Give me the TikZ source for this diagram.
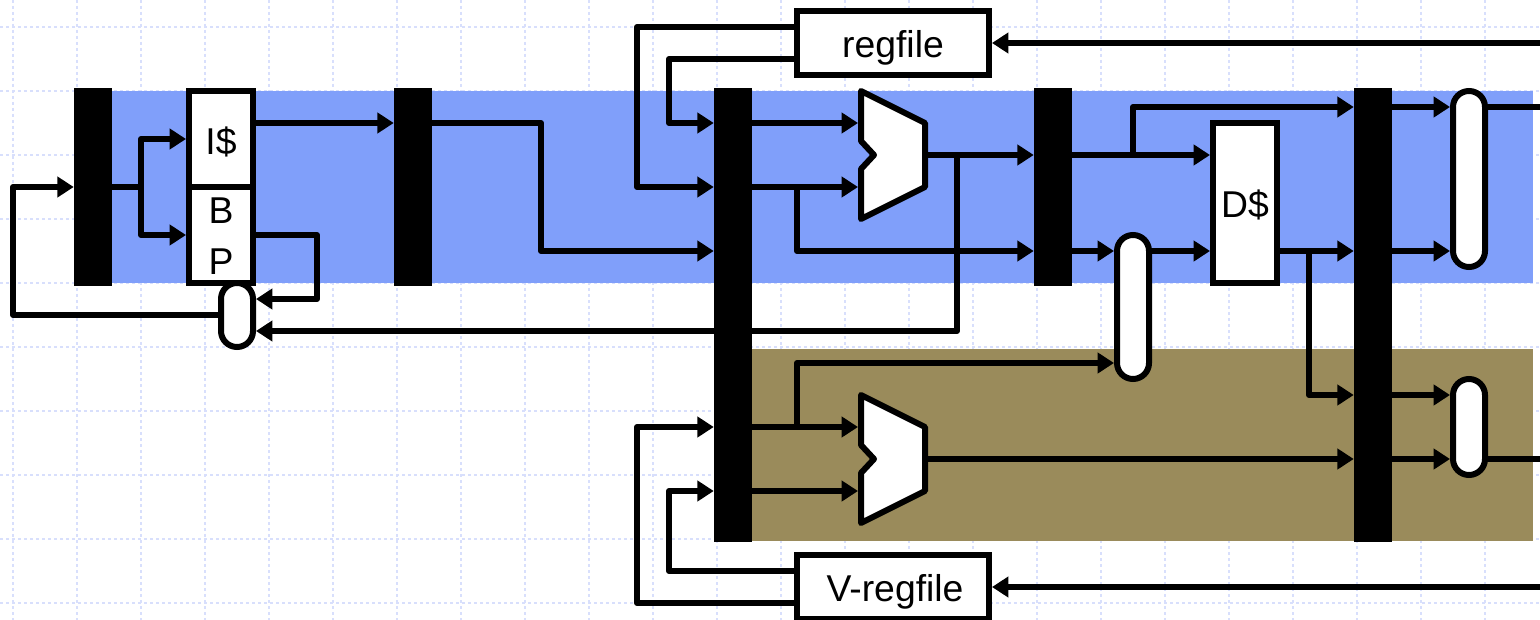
\documentclass[tikz,border=0pt]{standalone}
\usepackage{fontspec}
\setmainfont{Liberation Sans}
\usetikzlibrary{arrows.meta}
\definecolor{gridc}{HTML}{D8DFFC}
\definecolor{blueband}{HTML}{809FFA}
\definecolor{brownband}{HTML}{9A8B5B}
\newcommand\placedtext[2]{\raisebox{#1}[0pt][0pt]{#2}}
\tikzset{
  gridline/.style={draw=gridc,line width=1.25pt,dash pattern=on 2.4pt off 2.1pt},
  wire/.style={line width=4.5pt,line join=round,line cap=butt},
  arrowwire/.style={wire,-{Triangle[length=12.25pt,width=15pt,inset=0pt]}},
  bar/.style={fill=black,inner sep=0pt,minimum width=28.5pt},
  band/.style={inner sep=0pt,outer sep=0pt},
  box/.style={draw=black,fill=white,line width=4.5pt,inner sep=0pt,align=center,line join=miter},
  oval/.style={draw=black,fill=white,line width=4.5pt,inner sep=0pt,rounded corners=12pt},
  alubody/.style={draw=black,fill=white,line width=4.5pt,line join=round},
  label/.style={font=\fontsize{28}{39}\selectfont}
}
\begin{document}
\begin{tikzpicture}[x=0.75pt,y=-0.75pt]
\useasboundingbox (0,0) rectangle (1540,620);
% grid
\foreach \n in {0,...,23} \draw[gridline] ({12.7+64*\n},0) -- ({12.7+64*\n},620);
\foreach \n in {0,...,9} \draw[gridline] (0,{26.7+64*\n}) -- (1540,{26.7+64*\n});
% bands
\node[band,fill=blueband,anchor=north west,minimum width=1065.75pt,minimum height=144pt] (blue) at (112,91) {};
\node[band,fill=brownband,anchor=north west,minimum width=585.75pt,minimum height=144pt] (brown) at (752,349) {};
% pipeline bars
\node[bar,minimum height=148.5pt] (barA) at (93,187) {};
\node[bar,minimum height=148.5pt] (barB) at (413,187) {};
\node[bar,minimum height=340.5pt] (barC) at (733,315) {};
\node[bar,minimum height=148.5pt] (barD) at (1053,187) {};
\node[bar,minimum height=340.5pt] (barE) at (1373,315) {};
% ovals
\node[oval,minimum width=24pt,minimum height=48pt] (ovalA) at (237,315) {};
\node[oval,minimum width=24pt,minimum height=108pt] (ovalB) at (1133,307) {};
\node[oval,minimum width=24pt,minimum height=132pt] (ovalC) at (1469,179) {};
\node[oval,minimum width=24pt,minimum height=72pt] (ovalD) at (1469,427) {};
% boxes
\node[box,minimum width=48pt,minimum height=72pt,label] (icache) at (221,139) {\placedtext{-12pt}{I\$}};
\node[box,minimum width=48pt,minimum height=72pt,label] (bp) at (221,235) {\placedtext{-29.5pt}{\shortstack{B\\[15.75pt]P}}};
\node[box,minimum width=144pt,minimum height=48pt,label] (regfile) at (893,43) {\placedtext{-10.7pt}{regfile}};
\node[box,minimum width=144pt,minimum height=48pt,label] (vregfile) at (893,587) {\hspace{3pt}\placedtext{-10.5pt}{V-regfile}};
\node[box,minimum width=48pt,minimum height=120pt,label] (dcache) at (1245,203) {\placedtext{-11.25pt}{D\$}};
% ALUs
\draw[alubody] (861,91) -- (925,123) -- (925,187) -- (861,219) -- (861,169) -- (874,155) -- (861,141) -- cycle;
\draw[alubody] (861,395) -- (925,427) -- (925,491) -- (861,523) -- (861,473) -- (874,459) -- (861,445) -- cycle;
\coordinate (aluAa) at (858,123);
\coordinate (aluAb) at (858,187);
\coordinate (aluAo) at (928,155);
\coordinate (aluBa) at (858,427);
\coordinate (aluBb) at (858,491);
\coordinate (aluBo) at (928,459);
% free ends
\coordinate (edgeA) at (1540,43);
\coordinate (edgeB) at (1540,107);
\coordinate (edgeC) at (1540,459);
\coordinate (edgeD) at (1540,587);
% front end
\draw[wire] (barA.east |- 0,187) -- (141,187);
\draw[arrowwire] (141,187) -- (141,139) -- (icache.west |- 0,139);
\draw[arrowwire] (141,187) -- (141,235) -- (bp.west);
\draw[arrowwire] (ovalA.west) -- (13,315) -- (13,187) -- (barA.west);
\draw[arrowwire] (bp.east) -- (317,235) -- (317,299) -- (ovalA.east |- 0,299);
\draw[arrowwire] (aluAo) -- (957,155) -- (957,331) -- (ovalA.east |- 0,331);
\draw[arrowwire] (icache.east |- 0,123) -- (barB.west |- 0,123);
\draw[arrowwire] (barB.east |- 0,123) -- (541,123) -- (541,251) -- (barC.west |- 0,251);
% regfile
\draw[arrowwire] (regfile.west |- 0,27) -- (637,27) -- (637,187) -- (barC.west |- 0,187);
\draw[arrowwire] (regfile.west |- 0,59) -- (669,59) -- (669,123) -- (barC.west |- 0,123);
\draw[arrowwire] (edgeA) -- (regfile.east);
\draw[arrowwire] (barC.east |- 0,123) -- (aluAa);
\draw[arrowwire] (barC.east |- 0,187) -- (aluAb);
\draw[arrowwire] (797,187) -- (797,251) -- (barD.west |- 0,251);
\draw[arrowwire] (aluAo) -- (barD.west |- 0,155);
% memory
\draw[arrowwire] (barD.east |- 0,155) -- (dcache.west |- 0,155);
\draw[arrowwire] (1133,155) -- (1133,107) -- (barE.west |- 0,107);
\draw[arrowwire] (barD.east |- 0,251) -- (ovalB.west |- 0,251);
\draw[arrowwire] (ovalB.east |- 0,251) -- (dcache.west |- 0,251);
\draw[arrowwire] (dcache.east |- 0,251) -- (barE.west |- 0,251);
\draw[arrowwire] (1309,251) -- (1309,395) -- (barE.west |- 0,395);
\draw[arrowwire] (barE.east |- 0,107) -- (ovalC.west |- 0,107);
\draw[arrowwire] (barE.east |- 0,251) -- (ovalC.west |- 0,251);
\draw[wire] (ovalC.east |- 0,107) -- (edgeB);
% vector side
\draw[arrowwire] (barC.east |- 0,427) -- (aluBa);
\draw[arrowwire] (barC.east |- 0,491) -- (aluBb);
\draw[arrowwire] (797,427) -- (797,363) -- (ovalB.west |- 0,363);
\draw[arrowwire] (aluBo) -- (barE.west |- 0,459);
\draw[arrowwire] (barE.east |- 0,395) -- (ovalD.west |- 0,395);
\draw[arrowwire] (barE.east |- 0,459) -- (ovalD.west |- 0,459);
\draw[wire] (ovalD.east |- 0,459) -- (edgeC);
\draw[arrowwire] (vregfile.west |- 0,571) -- (669,571) -- (669,491) -- (barC.west |- 0,491);
\draw[arrowwire] (vregfile.west |- 0,603) -- (637,603) -- (637,427) -- (barC.west |- 0,427);
\draw[arrowwire] (edgeD) -- (vregfile.east);
\end{tikzpicture}
\end{document}
